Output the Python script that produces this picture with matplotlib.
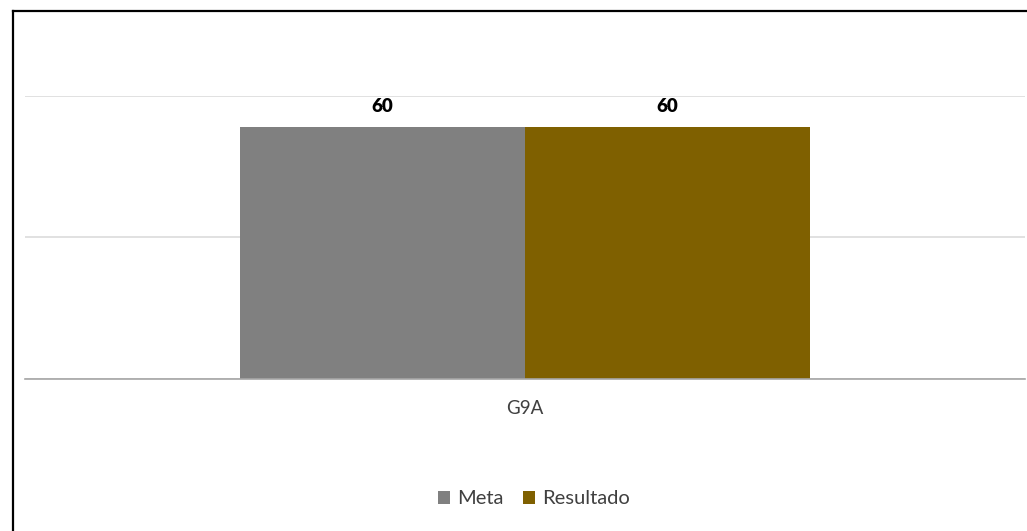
import matplotlib
matplotlib.use("Agg")
import matplotlib.pyplot as plt
from matplotlib.patches import Patch
from matplotlib.lines import Line2D

plt.rcParams['font.family'] = ['Lato', 'DejaVu Sans']

categories = ["G9A"]
series_names = ["Meta", "Resultado"]
meta = [60]
resultado = [60]
colors = ["#808080", "#7F6000"]

W, H = 1027, 531
fig = plt.figure(figsize=(W / 100, H / 100), dpi=100)
fig.patch.set_facecolor("white")

left, right = 25 / W, 1025 / W
bottom, top = 1 - 379 / H, 1 - 96 / H
ax = fig.add_axes([left, bottom, right - left, top - bottom])

bw = 0.57
xs = list(range(len(categories)))
ymax = 67.4
for i, (vals, name, col) in enumerate(zip([meta, resultado], series_names, colors)):
    off = (-0.5 + i) * bw
    bars = ax.bar([x + off for x in xs], vals, width=bw, color=col, label=name, zorder=3)
    for b, v in zip(bars, vals):
        ax.annotate(f"{v}", (b.get_x() + b.get_width() / 2, b.get_height()),
                    xytext=(0, 11.2), textcoords="offset points",
                    ha="center", va="baseline", fontsize=13.5, fontweight="heavy",
                    color="black")

ax.set_xlim(-1, 1)
ax.set_ylim(0, ymax)
ax.set_yticks([0, ymax / 2, ymax])
ax.yaxis.grid(True, color="#d9d9d9", linewidth=1.1, zorder=0)
ax.tick_params(axis="y", left=False, labelleft=False)
ax.set_xticks([])
for s in ["top", "right", "left"]:
    ax.spines[s].set_visible(False)
ax.spines["bottom"].set_color("#a6a6a6")
ax.spines["bottom"].set_linewidth(1.2)
ax.spines["bottom"].set_zorder(4)

for x, c in zip(xs, categories):
    ax.annotate(c, (x, 0), xycoords=("data", "data"), xytext=(0, -25.2),
                textcoords="offset points", ha="center", va="baseline",
                fontsize=13.5, color="#404040")

handles = [Patch(facecolor=c, edgecolor="none", label=n) for c, n in zip(colors, series_names)]
fig.legend(handles=handles, loc="center", bbox_to_anchor=(534 / W, 1 - 499 / H),
           ncol=2, frameon=False, fontsize=14.5, handlelength=0.6, handleheight=0.6,
           handletextpad=0.35, columnspacing=1.0, labelcolor="#404040")

# figure border (left and top visible in the crop)
fig.add_artist(Line2D([12.5 / W, 12.5 / W], [0, 1 - 10.5 / H], transform=fig.transFigure,
                      color="black", linewidth=1.6))
fig.add_artist(Line2D([12.5 / W, 1], [1 - 10.5 / H, 1 - 10.5 / H], transform=fig.transFigure,
                      color="black", linewidth=1.6))

fig.savefig("out.png", dpi=100, facecolor="white")
